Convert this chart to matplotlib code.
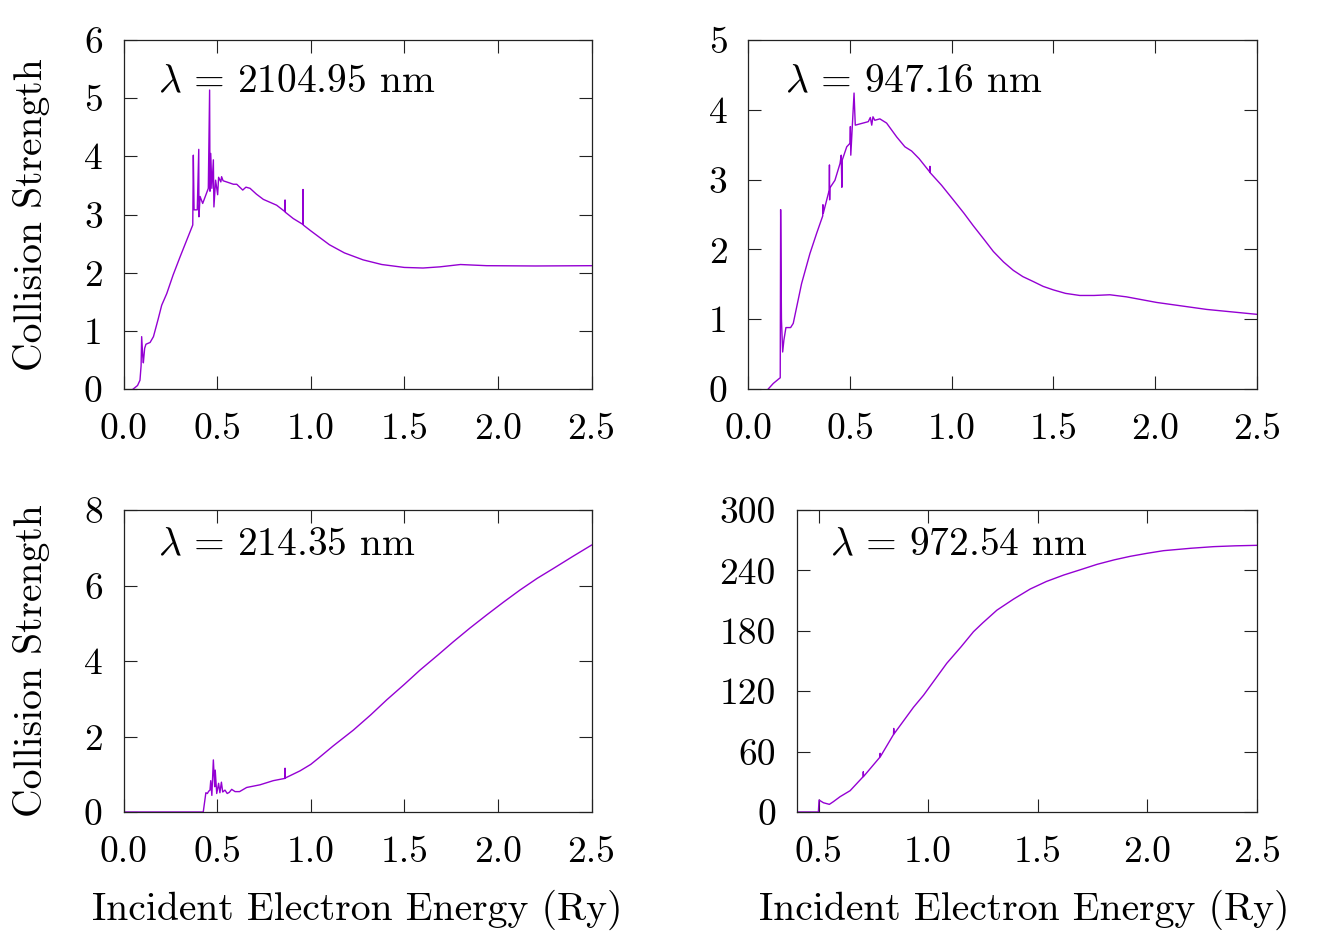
import matplotlib
matplotlib.use('Agg')
import matplotlib.pyplot as plt
from matplotlib.ticker import FormatStrFormatter, MultipleLocator

plt.rcParams['font.family'] = 'cmr10'
plt.rcParams['mathtext.fontset'] = 'cm'
plt.rcParams['axes.formatter.use_mathtext'] = True

# lambda = 2104.95 nm
e_2104 = [0.052, 0.075, 0.088, 0.094, 0.097, 0.103, 0.106, 0.113, 0.120, 0.142, 0.160, 0.185,
          0.204, 0.231, 0.265, 0.302, 0.370, 0.373, 0.377, 0.394, 0.402, 0.403, 0.409, 0.423,
          0.445, 0.453, 0.460, 0.462, 0.466, 0.472, 0.480, 0.483, 0.492, 0.503, 0.508, 0.520,
          0.524, 0.532, 0.560, 0.587, 0.605, 0.637, 0.654, 0.676, 0.710, 0.747, 0.818, 0.862,
          0.863, 0.864, 0.907, 0.958, 0.959, 0.960, 1.000, 1.050, 1.100, 1.180, 1.280, 1.380,
          1.500, 1.600, 1.690, 1.800, 1.940, 2.200, 2.500]
cs_2104 = [0.00, 0.06, 0.15, 0.40, 0.90, 0.55, 0.45, 0.70, 0.77, 0.80, 0.90, 1.20,
           1.44, 1.64, 1.96, 2.27, 2.82, 4.02, 3.08, 3.08, 4.12, 2.96, 3.31, 3.19,
           3.38, 3.45, 5.14, 3.40, 4.05, 3.45, 3.94, 3.13, 3.59, 3.34, 3.64, 3.56,
           3.65, 3.58, 3.55, 3.52, 3.52, 3.42, 3.47, 3.45, 3.35, 3.26, 3.16, 3.05,
           3.25, 3.04, 2.93, 2.83, 3.43, 2.82, 2.72, 2.60, 2.48, 2.34, 2.22, 2.14,
           2.09, 2.08, 2.10, 2.14, 2.12, 2.115, 2.12]

# lambda = 947.16 nm
e_947 = [0.098, 0.123, 0.152, 0.157, 0.159, 0.163, 0.169, 0.175, 0.185, 0.208, 0.221, 0.262,
         0.303, 0.336, 0.366, 0.367, 0.369, 0.398, 0.399, 0.400, 0.401, 0.426, 0.451, 0.457,
         0.460, 0.462, 0.484, 0.500, 0.502, 0.504, 0.520, 0.526, 0.590, 0.600, 0.607, 0.613,
         0.622, 0.647, 0.680, 0.730, 0.770, 0.803, 0.840, 0.892, 0.893, 0.894, 0.950, 1.008,
         1.060, 1.106, 1.160, 1.205, 1.255, 1.303, 1.350, 1.401, 1.450, 1.500, 1.560, 1.630,
         1.700, 1.778, 1.860, 2.008, 2.254, 2.500]
cs_947 = [0.00, 0.08, 0.15, 0.16, 2.57, 1.00, 0.53, 0.70, 0.88, 0.88, 0.94, 1.51,
          1.94, 2.23, 2.48, 2.64, 2.52, 2.85, 3.21, 2.71, 2.88, 2.99, 3.23, 3.35,
          2.89, 3.28, 3.47, 3.52, 3.76, 3.35, 4.24, 3.78, 3.83, 3.89, 3.78, 3.90,
          3.85, 3.87, 3.81, 3.61, 3.47, 3.41, 3.30, 3.11, 3.19, 3.10, 2.92, 2.71,
          2.52, 2.34, 2.14, 1.97, 1.82, 1.70, 1.61, 1.54, 1.47, 1.42, 1.37, 1.34,
          1.34, 1.35, 1.32, 1.24, 1.14, 1.07]

# lambda = 214.35 nm
e_214 = [0.000, 0.426, 0.440, 0.448, 0.455, 0.462, 0.466, 0.472, 0.480, 0.487, 0.490, 0.498,
         0.508, 0.515, 0.523, 0.530, 0.542, 0.554, 0.565, 0.578, 0.596, 0.620, 0.658, 0.729,
         0.800, 0.862, 0.863, 0.864, 0.943, 1.000, 1.040, 1.120, 1.228, 1.320, 1.406, 1.500,
         1.584, 1.680, 1.762, 1.850, 1.940, 2.030, 2.118, 2.210, 2.296, 2.400, 2.500]
cs_214 = [0.00, 0.00, 0.51, 0.49, 0.55, 0.58, 0.83, 0.44, 1.38, 0.67, 1.11, 0.49,
          0.76, 0.51, 0.79, 0.53, 0.58, 0.49, 0.52, 0.60, 0.54, 0.54, 0.65, 0.72,
          0.83, 0.89, 1.16, 0.90, 1.09, 1.26, 1.42, 1.75, 2.17, 2.57, 2.97, 3.38,
          3.76, 4.16, 4.51, 4.87, 5.22, 5.56, 5.88, 6.19, 6.45, 6.77, 7.07]

# lambda = 972.54 nm
e_972 = [0.400, 0.499, 0.502, 0.522, 0.549, 0.567, 0.598, 0.644, 0.703, 0.704, 0.705, 0.780,
         0.781, 0.782, 0.842, 0.843, 0.844, 0.933, 0.979, 1.085, 1.150, 1.207, 1.250, 1.314,
         1.390, 1.466, 1.540, 1.619, 1.700, 1.771, 1.850, 1.923, 2.000, 2.075, 2.200, 2.304,
         2.400, 2.500]
cs_972 = [0.0, 0.0, 11.9, 9.2, 7.6, 10.2, 15.2, 21.2, 35.0, 40.0, 35.2, 54.5,
          58.3, 55.0, 77.0, 83.0, 77.5, 104.0, 116.0, 147.7, 164.0, 179.1, 188.0, 200.5,
          211.5, 221.5, 229.0, 235.4, 241.0, 246.0, 250.5, 254.0, 257.0, 259.6, 262.0, 263.6,
          264.4, 264.9]

labels = [r'$\lambda\,=\,2104.95$ nm', r'$\lambda\,=\,947.16$ nm',
          r'$\lambda\,=\,214.35$ nm', r'$\lambda\,=\,972.54$ nm']

fig = plt.figure(figsize=(13.27, 9.41), dpi=100)

W, H = 1327.0, 941.0
boxes = [(123.5, 40, 591.5, 389), (748.3, 40, 1256.7, 389),
         (123.5, 510, 591.5, 812), (796.7, 510, 1256.7, 812)]
data = [(e_2104, cs_2104), (e_947, cs_947), (e_214, cs_214), (e_972, cs_972)]
xlims = [(0, 2.5), (0, 2.5), (0, 2.5), (0.4, 2.5)]
ylims = [(0, 6), (0, 5), (0, 8), (0, 300)]
ysteps = [1, 1, 2, 60]

for i, (x0, y0, x1, y1) in enumerate(boxes):
    ax = fig.add_axes([x0 / W, 1 - y1 / H, (x1 - x0) / W, (y1 - y0) / H])
    e, cs = data[i]
    ax.plot(e, cs, color='#9400D3', lw=1.0)
    ax.set_xlim(*xlims[i])
    ax.set_ylim(*ylims[i])
    ax.xaxis.set_major_locator(MultipleLocator(0.5))
    ax.yaxis.set_major_locator(MultipleLocator(ysteps[i]))
    ax.xaxis.set_major_formatter(FormatStrFormatter('%.1f'))
    ax.yaxis.set_major_formatter(FormatStrFormatter('%d'))
    ax.tick_params(direction='in', top=True, right=True, length=9.5, width=0.8,
                   labelsize=27, color='#222222')
    ax.tick_params(axis='x', pad=17)
    ax.tick_params(axis='y', pad=15)
    for s in ax.spines.values():
        s.set_linewidth(0.9)
        s.set_color('#222222')
    ax.text(0.073, 0.85, labels[i], transform=ax.transAxes, fontsize=28.4,
            ha='left', va='baseline')

# axis titles
fig.text(32 / W, 1 - 214.5 / H, 'Collision Strength', rotation=90, fontsize=28.5,
         ha='center', va='center')
fig.text(32 / W, 1 - 661 / H, 'Collision Strength', rotation=90, fontsize=28.5,
         ha='center', va='center')
fig.text(357.5 / W, 1 - 910 / H, 'Incident Electron Energy (Ry)', fontsize=28.5,
         ha='center', va='center')
fig.text(1024 / W, 1 - 910 / H, 'Incident Electron Energy (Ry)', fontsize=28.5,
         ha='center', va='center')

plt.savefig('out.png', dpi=100)
